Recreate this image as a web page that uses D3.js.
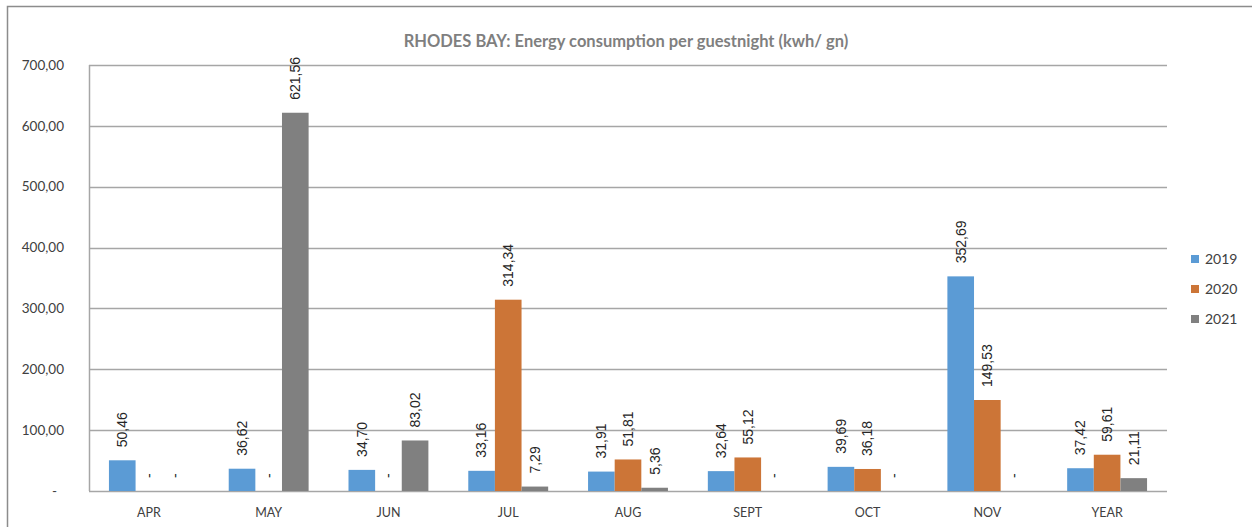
<!DOCTYPE html>
<html>
<head>
<meta charset="utf-8">
<script src="https://cdn.jsdelivr.net/npm/d3@7"></script>
<style>
  html, body { margin: 0; padding: 0; background: #fff; }
  svg { display: block; }
</style>
</head>
<body>
<svg id="chart" width="1252" height="527"></svg>
<script>
const months = ["APR", "MAY", "JUN", "JUL", "AUG", "SEPT", "OCT", "NOV", "YEAR"];
const seriesNames = ["2019", "2020", "2021"];
const values2019 = [50.46, 36.62, 34.70, 33.16, 31.91, 32.64, 39.69, 352.69, 37.42];
const values2020 = [0, 0, 0, 314.34, 51.81, 55.12, 36.18, 149.53, 59.61];
const values2021 = [0, 621.56, 83.02, 7.29, 5.36, 0, 0, 0, 21.11];
const yTicks = [0, 100, 200, 300, 400, 500, 600, 700];
const colors = ["#5b9bd5", "#cc7537", "#808080"];

const locale = d3.formatLocale({ decimal: ",", thousands: ".", grouping: [3], currency: ["", ""] });
const fmt = locale.format(",.2f");
const label = v => v === 0 ? "-" : fmt(v);

const svg = d3.select("#chart");
const margin = { top: 65, left: 89, right: 1167, bottom: 491 };

// outer chart border (only top and left edges visible in the crop)
svg.append("path")
    .attr("d", "M7.5,527 L7.5,6.5 L1252,6.5")
    .attr("fill", "none")
    .attr("stroke", "#8c8c8c")
    .attr("stroke-width", 1.5);

svg.append("text")
    .attr("x", 626)
    .attr("y", 47)
    .attr("text-anchor", "middle")
    .style("font-family", "Lato, 'Open Sans', sans-serif")
    .style("font-weight", "bold")
    .style("font-size", "16.5px")
    .attr("fill", "#7f7f7f")
    .text("RHODES BAY: Energy consumption per guestnight  (kwh/ gn)");

const x0 = d3.scaleBand()
    .domain(months)
    .range([margin.left, margin.right])
    .paddingInner(0.333)
    .paddingOuter(0.1665);

const x1 = d3.scaleBand()
    .domain(seriesNames)
    .range([0, x0.bandwidth()]);

const y = d3.scaleLinear()
    .domain([0, 700])
    .range([margin.bottom, margin.top]);

// gridlines
svg.append("g")
    .selectAll("line")
    .data(yTicks)
    .join("line")
    .attr("x1", margin.left)
    .attr("x2", margin.right)
    .attr("y1", d => Math.round(y(d)) + 0.5)
    .attr("y2", d => Math.round(y(d)) + 0.5)
    .attr("stroke", "#a6a6a6")
    .attr("stroke-width", 1.5);

svg.append("line")
    .attr("x1", margin.left + 0.5)
    .attr("x2", margin.left + 0.5)
    .attr("y1", margin.top)
    .attr("y2", margin.bottom)
    .attr("stroke", "#a6a6a6")
    .attr("stroke-width", 1.5);

// y tick labels
svg.append("g")
    .selectAll("text")
    .data(yTicks)
    .join("text")
    .attr("x", d => d === 0 ? 57 : 64)
    .attr("y", d => y(d))
    .attr("dy", "0.35em")
    .attr("text-anchor", "end")
    .style("font-family", "Lato, 'Open Sans', sans-serif")
    .style("font-size", "13.5px")
    .attr("fill", "#404040")
    .text(d => d === 0 ? "-" : fmt(d));

// x labels
svg.append("g")
    .selectAll("text")
    .data(months)
    .join("text")
    .attr("x", d => x0(d) + x0.bandwidth() / 2)
    .attr("y", 517)
    .attr("text-anchor", "middle")
    .style("font-family", "Lato, 'Open Sans', sans-serif")
    .style("font-size", "12.5px")
    .attr("fill", "#404040")
    .text(d => d);

const series = [values2019, values2020, values2021];
const rows = [];
series.forEach((vals, s) => {
    vals.forEach((v, i) => rows.push({ month: months[i], series: seriesNames[s], value: v, color: colors[s] }));
});

const bars = svg.append("g");
bars.selectAll("rect")
    .data(rows.filter(d => d.value > 0))
    .join("rect")
    .attr("x", d => x0(d.month) + x1(d.series))
    .attr("width", x1.bandwidth())
    .attr("y", d => y(d.value))
    .attr("height", d => y(0) - y(d.value))
    .attr("fill", d => d.color);

// rotated data labels
svg.append("g")
    .selectAll("text")
    .data(rows)
    .join("text")
    .attr("transform", d => {
        const cx = x0(d.month) + x1(d.series) + x1.bandwidth() / 2;
        const cy = y(d.value) - 13;
        return `translate(${cx},${cy}) rotate(-90)`;
    })
    .attr("dy", "0.35em")
    .style("font-family", "'Liberation Sans', Arial, sans-serif")
    .style("font-size", "14px")
    .attr("fill", "#262626")
    .text(d => label(d.value));

// legend
const legend = svg.append("g")
    .selectAll("g")
    .data(seriesNames)
    .join("g")
    .attr("transform", (d, i) => `translate(1191,${259 + i * 30})`);

legend.append("rect")
    .attr("x", 0)
    .attr("y", -4)
    .attr("width", 8)
    .attr("height", 8)
    .attr("fill", (d, i) => colors[i]);

legend.append("text")
    .attr("x", 14)
    .attr("dy", "0.35em")
    .style("font-family", "Lato, 'Open Sans', sans-serif")
    .style("font-size", "14px")
    .attr("fill", "#404040")
    .text(d => d);
</script>
</body>
</html>
